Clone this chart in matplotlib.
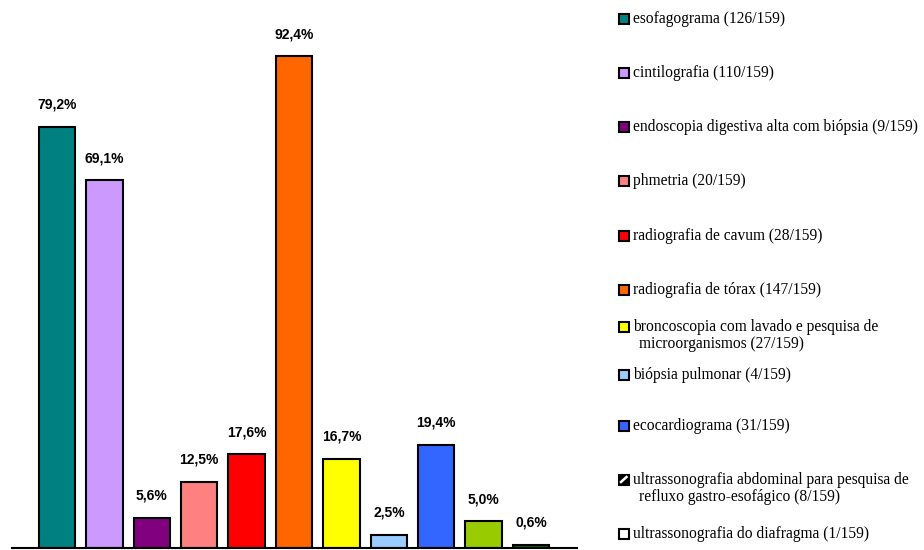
import matplotlib.pyplot as plt
from matplotlib.patches import Rectangle
from matplotlib.lines import Line2D

exames = [
    "esofagograma (126/159)",
    "cintilografia (110/159)",
    "endoscopia digestiva alta com biópsia (9/159)",
    "phmetria (20/159)",
    "radiografia de cavum (28/159)",
    "radiografia de tórax (147/159)",
    "broncoscopia com lavado e pesquisa de\nmicroorganismos (27/159)",
    "biópsia pulmonar (4/159)",
    "ecocardiograma (31/159)",
    "ultrassonografia abdominal para pesquisa de\nrefluxo gastro-esofágico (8/159)",
    "ultrassonografia do diafragma (1/159)",
]
percentuais = [79.2, 69.1, 5.6, 12.5, 17.6, 92.4, 16.7, 2.5, 19.4, 5.0, 0.6]
cores = ["#008080", "#CC99FF", "#800080", "#FF8080", "#FF0000", "#FF6600",
         "#FFFF00", "#99CCFF", "#3366FF", "#99CC00", "#006400"]
# cores dos quadrados da legenda (os dois últimos diferem das barras)
cores_legenda = cores[:9] + ["#000000", "#FFFFFF"]

fig = plt.figure(figsize=(9.24, 5.5), dpi=100)
ax = fig.add_axes([11.5 / 924, 2 / 550, 565.5 / 924, 532 / 550])

x = list(range(len(percentuais)))
ax.bar(x, percentuais, width=0.77, color=cores, edgecolor="black", linewidth=1.5)

for xi, v in zip(x, percentuais):
    ax.annotate(f"{v:.1f}%".replace(".", ","), (xi, v), xytext=(0, 11),
                textcoords="offset points", ha="center", va="bottom",
                fontsize=10, fontweight="bold", family="Liberation Sans")

ax.set_xlim(-0.96, 10.97)
ax.set_ylim(0, 100)
for lado in ["left", "right", "top"]:
    ax.spines[lado].set_visible(False)
ax.spines["bottom"].set_linewidth(1.5)
ax.set_xticks([])
ax.set_yticks([])

# legenda desenhada à mão, à direita (posições em pixels a partir do topo)
y_legenda = [19, 73, 127, 181, 236, 290, 327, 375, 426, 480, 534]
for i, (texto, cor, yp) in enumerate(zip(exames, cores_legenda, y_legenda)):
    yf = 1 - yp / 550
    q = Rectangle((619 / 924, yf - 4.5 / 550), 9.5 / 924, 9.5 / 550, transform=fig.transFigure,
                  facecolor=cor, edgecolor="black", linewidth=1.5)
    fig.patches.append(q)
    if i == 9:
        # traço branco em diagonal no quadrado preto
        fig.add_artist(Line2D([621 / 924, 626.5 / 924], [yf - 2 / 550, yf + 3 / 550],
                              transform=fig.transFigure, color="white", linewidth=1.8))
    for j, linha in enumerate(texto.split("\n")):
        x0 = 633 if j == 0 else 639
        fig.text(x0 / 924, yf - j * 17 / 550, linha, ha="left", va="center",
                 fontsize=11.2, family="Liberation Serif")

fig.savefig("out.png", dpi=100)
